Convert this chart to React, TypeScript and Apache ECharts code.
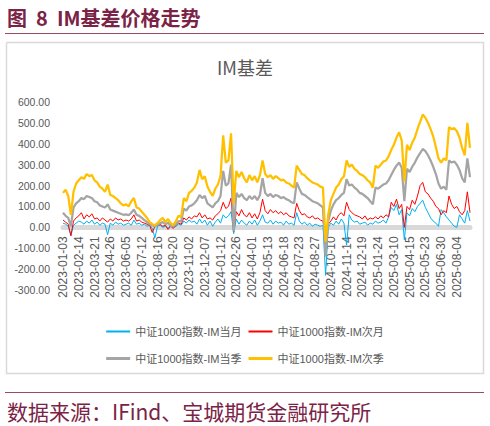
import React, { useEffect, useRef } from "react";
import * as echarts from "echarts";

// x-axis tick labels (every 24th trading day); the chart samples 6 points per tick step
const tickLabels = [
  "2023-01-03", "2023-02-14", "2023-03-21", "2023-04-26", "2023-06-05", "2023-07-12",
  "2023-08-16", "2023-09-20", "2023-11-02", "2023-12-07", "2024-01-12", "2024-02-26",
  "2024-04-01", "2024-05-13", "2024-06-18", "2024-07-23", "2024-08-27", "2024-10-10",
  "2024-11-14", "2024-12-19", "2025-01-24", "2025-03-10", "2025-04-15", "2025-05-23",
  "2025-06-30", "2025-08-04",
];

const seriesNames = [
  "中证1000指数-IM当月",
  "中证1000指数-IM次月",
  "中证1000指数-IM当季",
  "中证1000指数-IM次季",
];

// IM当月
const imCurMonth = [
  20, 15, 5, -40, 10, 20,
  30, 25, 15, 30, 20, 35,
  15, 25, 10, 20, 15, -35,
  20, 10, 25, 15, 20, 10,
  15, 20, 10, 35, 15, 20,
  10, 15, 5, 10, -5, -50,
  5, 10, 0, 5, -5, 10,
  0, 5, 15, 10, 30, 20,
  35, 25, 30, 15, 40, 20,
  35, 10, 30, 5, 25, 40,
  20, 60, 45, 55, 75, -30,
  40, 15, 35, 20, 10, 30,
  15, 35, 10, 30, 60, 25,
  20, 35, 15, 30, 20, 25,
  10, 30, 15, 20, 10, 70,
  30, 15, 25, 10, 20, 5,
  15, 10, 5, 10, -230, 0,
  20, 10, 30, 15, 40, 20,
  -85, 60, 35, 25, 30, 15,
  20, 25, 10, 20, 15, 30,
  20, 25, 35, 20, 50, 95,
  80, 110, 60, 85, -60, 70,
  55, 90, 75, 100, 115, 130,
  95, 70, 45, 30, 20, 5,
  85, 70, 50, 35, 20, 5,
  0, 60, 40, 20, 80, 30,
];

// IM次月
const imNextMonth = [
  35, 25, 15, -40, 30, 45,
  55, 70, 40, 60, 50, 65,
  40, 45, 30, 45, 35, 25,
  40, 30, 45, 35, 40, 30,
  35, 30, 40, 60, 30, 35,
  25, 20, 15, 10, -25, 5,
  10, 15, 5, 10, -10, 5,
  -5, 10, 20, 15, 45, 35,
  50, 40, 55, 50, 70, 45,
  60, 40, 45, 35, 55, 65,
  80, 120, 90, 100, 140, -20,
  75, 55, 85, 60, 50, 70,
  45, 65, 40, 70, 135, 80,
  65, 85, 70, 80, 65, 75,
  60, 70, 55, 50, 45, 115,
  80, 60, 65, 50, 45, 55,
  40, 45, 35, 30, -50, 15,
  30, 50, 35, 60, 70, 55,
  120, 85, 70, 60, 55, 50,
  40, 55, 35, 45, 40, 50,
  40, 55, 45, 60, 50, 120,
  100, 135, 90, 110, 0, 100,
  85, 130, 110, 150, 200, 215,
  170, 160, 140, 125, 100, 90,
  60, 80, 70, 150, 110, 90,
  100, 75, 60, 80, 170, 70,
];

// IM当季
const imCurQuarter = [
  70, 55, 45, 5, 95, 115,
  125, 140, 135, 150, 145, 140,
  125, 120, 105, 100, 95, 110,
  85, 80, 75, 70, 65, 60,
  62, 58, 70, 85, 60, 55,
  45, 35, 25, 15, 10, 5,
  12, 20, 25, 15, 22, 8,
  5, 15, 30, 28, 90, 80,
  100, 105, 115, 130, 155, 140,
  150, 115, 105, 95, 115, 125,
  150, 270, 200, 210, 300, -20,
  165, 145, 160, 140, 130, 150,
  135, 150, 130, 155, 235, 165,
  150, 160, 145, 155, 150, 140,
  145, 135, 130, 120, 115, 215,
  185, 160, 155, 145, 135, 125,
  120, 115, 105, 95, -140, 30,
  80, 110, 130, 140, 155, 165,
  230, 200, 205, 190, 180, 165,
  160, 150, 140, 125, 110, 190,
  185, 195, 205, 210, 225, 250,
  275, 295, 310, 285, 125, 280,
  265, 290, 310, 335, 355, 375,
  365, 345, 320, 290, 255, 210,
  185, 195, 180, 320, 310, 315,
  300, 275, 235, 215, 330, 240,
];

// IM次季
const imNextQuarter = [
  165, 180, 150, 60, 170, 210,
  225, 240, 232, 255, 245, 250,
  225, 215, 195, 185, 170, 205,
  155, 150, 140, 130, 115, 105,
  110, 100, 125, 140, 95, 90,
  75, 60, 45, 25, 15, 10,
  20, 35, 45, 25, 40, 20,
  10, 30, 55, 50, 140, 125,
  165, 175, 190, 215, 275, 230,
  245, 195, 170, 150, 185, 205,
  245, 440, 310, 320, 450, 110,
  270, 240, 265, 235, 215, 250,
  225, 245, 215, 250, 320, 255,
  240, 250, 232, 245, 235, 225,
  228, 215, 210, 200, 190, 295,
  275, 255, 250, 235, 225, 215,
  210, 205, 195, 190, -70, 60,
  130, 160, 190, 205, 230, 245,
  320, 290, 300, 280, 270, 255,
  250, 240, 225, 215, 190, 295,
  285, 300, 315, 320, 340, 370,
  395, 430, 455, 415, 220, 395,
  370, 405, 430, 470, 505, 540,
  525, 500, 470, 435, 385, 330,
  310, 330, 320, 480, 470, 475,
  460, 430, 380, 345, 500, 380,
];

const seriesColors = ["#00b0f0", "#ff0000", "#a5a5a5", "#ffc000"];
const seriesWidths = [1, 1, 2.25, 2.25];

const PTS_PER_TICK = 6;
const Y_MIN = -300;
const Y_MAX = 600;
const Y_STEP = 100;

const FONT = "'Liberation Sans','Noto Sans CJK SC',sans-serif";
const CJK = "'Noto Sans CJK SC',sans-serif";
const MAROON = "#7b2346";

const GRID_TOP = 102;
const GRID_BOTTOM = 136;
const CHART_H = 426;

export default function App() {
  const ref = useRef<HTMLDivElement>(null);

  useEffect(() => {
    if (!ref.current) return;
    const chart = echarts.init(ref.current, undefined, { renderer: "svg" });

    const categories: string[] = [];
    tickLabels.forEach((t) => {
      categories.push(t);
      for (let k = 1; k < PTS_PER_TICK; k++) categories.push(`${t} +${k}`);
    });

    const dataSets = [imCurMonth, imNextMonth, imCurQuarter, imNextQuarter];

    // the category axis (line + labels) sits on the zero value line, as in the source
    const plotH = CHART_H - GRID_TOP - GRID_BOTTOM;
    const zeroOffset = -plotH * (0 - Y_MIN) / (Y_MAX - Y_MIN);

    chart.setOption({
      animation: false,
      backgroundColor: "#ffffff",
      title: {
        text: "IM基差",
        left: "center",
        top: 53,
        textStyle: { fontSize: 18, fontWeight: "normal", color: "#595959", fontFamily: CJK },
      },
      grid: { left: 63, right: 20, top: GRID_TOP, bottom: GRID_BOTTOM, containLabel: false },
      xAxis: {
        type: "category",
        data: categories,
        boundaryGap: false,
        position: "bottom",
        offset: zeroOffset,
        axisLine: { onZero: false, lineStyle: { color: "#d9d9d9", width: 5 } },
        axisTick: { show: false },
        axisLabel: {
          interval: PTS_PER_TICK - 1,
          rotate: 90,
          margin: 9,
          fontSize: 12,
          color: "#595959",
          fontFamily: FONT,
        },
        splitLine: { show: false },
        z: 1,
      },
      yAxis: {
        type: "value",
        min: Y_MIN,
        max: Y_MAX,
        interval: Y_STEP,
        axisLine: { show: false },
        axisTick: { show: false },
        splitLine: { show: false },
        axisLabel: {
          margin: 13,
          fontSize: 10.5,
          color: "#595959",
          fontFamily: FONT,
          formatter: (v: number) => v.toFixed(2),
        },
      },
      legend: [
        {
          data: [seriesNames[0], seriesNames[1]],
          top: 321,
          left: "center",
          icon: "rect",
          itemWidth: 24,
          itemHeight: 2,
          itemGap: 7,
          textStyle: { fontSize: 11, color: "#595959", fontFamily: FONT },
        },
        {
          data: [seriesNames[2], seriesNames[3]],
          top: 348,
          left: "center",
          icon: "rect",
          itemWidth: 24,
          itemHeight: 3,
          itemGap: 7,
          textStyle: { fontSize: 11, color: "#595959", fontFamily: FONT },
        },
      ],
      series: dataSets.map((d, i) => ({
        name: seriesNames[i],
        type: "line",
        data: d,
        symbol: "none",
        z: 2 + i,
        lineStyle: { color: seriesColors[i], width: seriesWidths[i] },
        itemStyle: { color: seriesColors[i] },
      })),
      graphic: {
        elements: [
          {
            type: "polyline",
            z: 50,
            silent: true,
            shape: {
              points: [
                [6.5, 42.5],
                [483.5, 42.5],
                [483.5, 373.5],
                [6.5, 373.5],
                [6.5, 42.5],
              ],
            },
            style: { stroke: "#d9d9d9", lineWidth: 1.5, fill: null },
          },
          {
            type: "text",
            x: 7,
            y: 17,
            style: {
              text: "图  8  IM基差价格走势",
              fill: MAROON,
              fontSize: 20,
              fontWeight: "bold",
              fontFamily: CJK,
              verticalAlign: "middle",
              align: "left",
            },
          },
          {
            type: "line",
            shape: { x1: 5, y1: 33.5, x2: 484, y2: 33.5 },
            style: { stroke: "#9a4a69", lineWidth: 1 },
          },
          {
            type: "line",
            shape: { x1: 5, y1: 392.5, x2: 484, y2: 392.5 },
            style: { stroke: "#9a4a69", lineWidth: 1 },
          },
          {
            type: "text",
            x: 7,
            y: 411,
            style: {
              text: "数据来源：IFind、宝城期货金融研究所",
              fill: MAROON,
              fontSize: 21,
              fontFamily: CJK,
              verticalAlign: "middle",
              align: "left",
            },
          },
        ],
      },
    });

    return () => chart.dispose();
  }, []);

  return (
    <div
      ref={ref}
      style={{ position: "absolute", left: 0, top: 0, width: 490, height: 426, background: "#fff" }}
    />
  );
}
